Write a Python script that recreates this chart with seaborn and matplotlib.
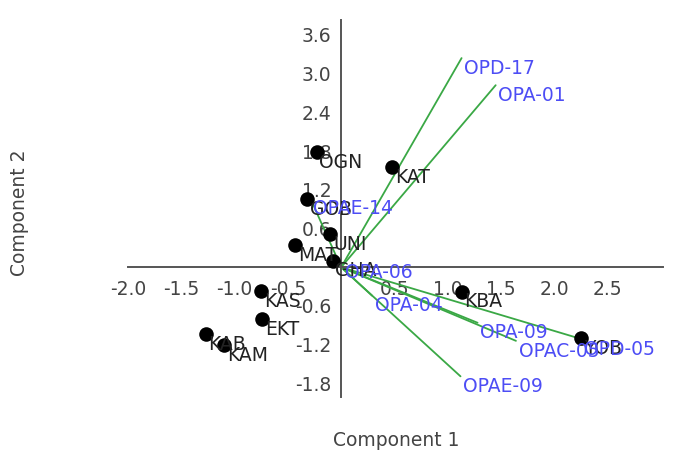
import matplotlib
matplotlib.use("Agg")
import matplotlib.pyplot as plt
import seaborn as sns
import pandas as pd

# Sample scores (black points)
samples = ["OGN", "KAT", "GOB", "UNI", "MAT", "GHA", "KAS", "EKT", "KAB", "KAM", "KBA", "YOB"]
score_x = [-0.23, 0.48, -0.32, -0.10, -0.43, -0.08, -0.75, -0.74, -1.27, -1.10, 1.13, 2.25]
score_y = [1.78, 1.55, 1.05, 0.51, 0.34, 0.10, -0.37, -0.80, -1.04, -1.21, -0.38, -1.10]

# Variable loadings (green vectors, blue labels)
markers_ = ["OPD-17", "OPA-01", "OPAE-14", "OPA-06", "OPA-04", "OPA-09", "OPAC-05", "OPD-05", "OPAE-09"]
load_x = [1.13, 1.45, -0.29, 0.01, 0.29, 1.28, 1.64, 2.25, 1.12]
load_y = [3.24, 2.82, 1.07, 0.07, -0.44, -0.86, -1.14, -1.11, -1.69]

xticks = [-2.0, -1.5, -1.0, -0.5, 0.5, 1.0, 1.5, 2.0, 2.5]
yticks = [-1.8, -1.2, -0.6, 0.6, 1.2, 1.8, 2.4, 3.0, 3.6]

sns.set_theme(style="white")
plt.rcParams["font.family"] = ["DejaVu Sans"]

W, H = 678, 455
fig = plt.figure(figsize=(W / 100, H / 100), dpi=100)
ax = fig.add_axes([128 / W, 1 - 397 / H, (663 - 128) / W, (397 - 20) / H])

scores = pd.DataFrame({"name": samples, "x": score_x, "y": score_y})
loads = pd.DataFrame({"name": markers_, "x": load_x, "y": load_y})

green = "#3aa845"
for _, r in loads.iterrows():
    ax.plot([0, r["x"]], [0, r["y"]], color=green, lw=1.3, zorder=2)

sns.scatterplot(data=scores, x="x", y="y", ax=ax, color="black", s=110,
                edgecolor="black", linewidth=0, zorder=3, legend=False)

for _, r in scores.iterrows():
    ax.annotate(r["name"], (r["x"], r["y"]), xytext=(2, -0.5), textcoords="offset points",
                ha="left", va="top", fontsize=13.5, color="#222222", zorder=4)
for _, r in loads.iterrows():
    ax.annotate(r["name"], (r["x"], r["y"]), xytext=(2, -0.5), textcoords="offset points",
                ha="left", va="top", fontsize=13.5, color="#4d4df5", zorder=5)

ax.set_xlim(-2.0, 3.02)
ax.set_ylim(-2.01, 3.83)
for s in ["top", "right"]:
    ax.spines[s].set_visible(False)
for s in ["left", "bottom"]:
    ax.spines[s].set_position(("data", 0))
    ax.spines[s].set_color("#555555")
    ax.spines[s].set_linewidth(1.4)

ax.set_xticks(xticks)
ax.set_xticklabels([f"{v:.1f}" for v in xticks])
ax.set_yticks(yticks)
ax.set_yticklabels([f"{v:.1f}" for v in yticks])
ax.tick_params(axis="both", direction="out", length=5, width=1.4, color="#555555",
               labelsize=13.5, labelcolor="#444444", pad=2)
ax.tick_params(axis="x", pad=4)

ax.set_xlabel("")
ax.set_ylabel("")
fig.text(396 / W, 1 - 441 / H, "Component 1", ha="center", va="center", fontsize=13.5, color="#444444")
fig.text(20 / W, 1 - 213 / H, "Component 2", ha="center", va="center", rotation=90,
         fontsize=13.5, color="#444444")

fig.savefig("out.png", dpi=100)
